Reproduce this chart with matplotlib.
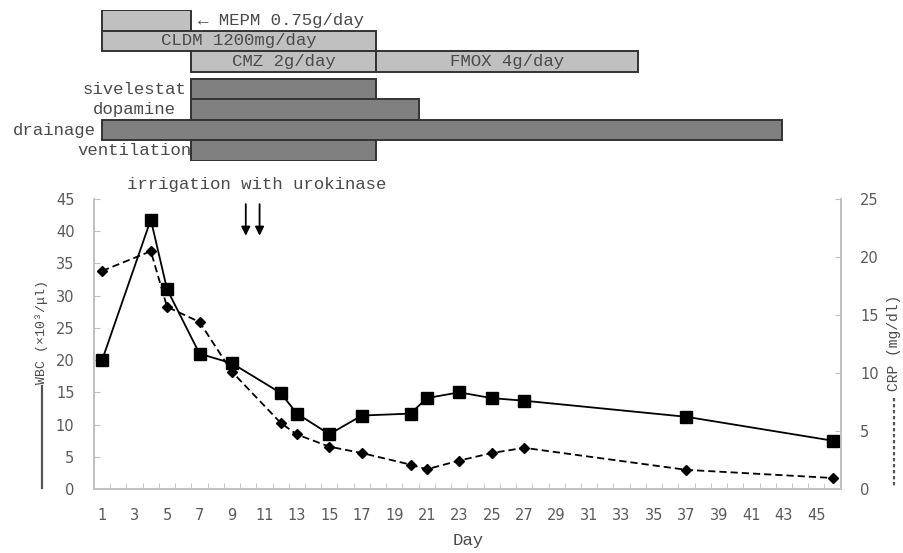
import matplotlib
matplotlib.use("Agg")
import matplotlib.pyplot as plt
from matplotlib.lines import Line2D
import numpy as np

# ---------------- data ----------------
wbc_days = [1, 4, 5, 7, 9, 12, 13, 15, 17, 20, 21, 23, 25, 27, 37, 46]
wbc_vals = [20.0, 41.8, 31.0, 21.0, 19.5, 14.9, 11.7, 8.5, 11.4, 11.7, 14.1, 15.0, 14.1, 13.7, 11.2, 7.5]

crp_days = [1, 4, 5, 7, 9, 12, 13, 15, 17, 20, 21, 23, 25, 27, 37, 46]
crp_vals = [18.8, 20.5, 15.7, 14.4, 10.1, 5.7, 4.7, 3.65, 3.1, 2.1, 1.7, 2.45, 3.1, 3.55, 1.65, 0.95]

# treatment bars: label, start day, end day, row
drug_labels = ["MEPM 0.75g/day", "CLDM 1200mg/day", "CMZ 2g/day", "FMOX 4g/day"]
drug_start = [1.0, 1.0, 6.45, 17.9]
drug_end = [6.45, 17.9, 17.9, 34.0]
drug_rows = [0, 1, 2, 2]

proc_labels = ["sivelestat", "dopamine", "drainage", "ventilation"]
proc_start = [6.45, 6.45, 1.0, 6.45]
proc_end = [17.9, 20.5, 42.9, 17.9]
proc_rows = [3.35, 4.35, 5.35, 6.35]

irrigation_days = [9.85, 10.7]

x_ticks = list(range(1, 46, 2))
wbc_ticks = list(range(0, 50, 5))
crp_ticks = list(range(0, 30, 5))

# ---------------- style ----------------
MONO = ["Liberation Mono", "DejaVu Sans Mono"]
TXT = "#4a4a4a"
TICK = "#5a5a5a"
AX = "#c0c0c0"

fig = plt.figure(figsize=(9.04, 5.53), dpi=100)
W, H = 904, 553

def fx(px):
    return px / W

def fy(py):
    return 1 - py / H

# main axes
ax = fig.add_axes([fx(94), fy(489), fx(840.7) - fx(94), fy(199) - fy(489)])
ax2 = ax.twinx()

ax.plot(wbc_days, wbc_vals, color="black", lw=1.3, marker="s", ms=8, zorder=3)
ax2.plot(crp_days, crp_vals, color="black", lw=1.3, ls=(0, (4, 2.2)), marker="D", ms=5.5, zorder=3)

ax.set_xlim(0.5, 46.5)
ax.set_ylim(0, 45)
ax2.set_ylim(0, 25)

ax.set_xticks(x_ticks)
ax.set_xticklabels([str(t) for t in x_ticks])
ax.set_xticks(np.arange(1.5, 46.5, 1.0), minor=True)
ax.set_yticks(wbc_ticks)
ax2.set_yticks(crp_ticks)

for a in (ax, ax2):
    for s in a.spines.values():
        s.set_color(AX)
        s.set_linewidth(1.2)
    a.spines["top"].set_visible(False)

ax.tick_params(axis="x", which="major", length=0, pad=14, labelsize=10.5, labelcolor=TICK)
ax.tick_params(axis="x", which="minor", direction="in", length=4, color=AX)
ax.tick_params(axis="y", direction="in", length=4, color=AX, pad=14, labelsize=10.5, labelcolor=TICK)
ax2.tick_params(axis="y", direction="in", length=4, color=AX, pad=14, labelsize=10.5, labelcolor=TICK)
for lab in ax.get_xticklabels() + ax.get_yticklabels() + ax2.get_yticklabels():
    lab.set_family("DejaVu Sans")

# irrigation arrows + label
for d in irrigation_days:
    ax.annotate("", xy=(d, 39.3), xytext=(d, 44.2),
                arrowprops=dict(arrowstyle="-|>", color="black", lw=1.3,
                                mutation_scale=13, shrinkA=0, shrinkB=0),
                annotation_clip=False)
fig.text(fx(257), fy(185), "irrigation with urokinase", family=MONO, fontsize=12.5,
         color=TXT, ha="center", va="center")

# axis labels with legend lines
fig.text(fx(468), fy(541), "Day", family=MONO, fontsize=12.5, color=TXT, ha="center", va="center")
fig.text(fx(42), fy(332), "WBC (×10³/μl)", family=MONO, fontsize=9.5, color=TXT,
         rotation=90, ha="center", va="center")
fig.add_artist(Line2D([fx(42), fx(42)], [fy(386), fy(488)], color="#555555", lw=1.6))
fig.text(fx(894), fy(343), "CRP (mg/dl)", family=MONO, fontsize=10.5, color=TXT,
         rotation=90, ha="center", va="center")
fig.add_artist(Line2D([fx(894), fx(894)], [fy(398), fy(486)], color="#555555", lw=1.6,
                      ls=(0, (1.5, 1.2))))

# ---------------- treatment bars ----------------
gx = fig.add_axes([fx(94), fy(161), fx(840.7) - fx(94), fy(10) - fy(161)])
gx.set_xlim(0.5, 46.5)
gx.set_ylim(6.85, -0.5)
gx.axis("off")

for lab, s, e, r in zip(drug_labels, drug_start, drug_end, drug_rows):
    gx.barh(r, e - s, left=s, height=1.0, color="#c0c0c0", edgecolor="#333333", lw=1.4)
    if lab.startswith("MEPM"):
        gx.text(e + 0.45, r, "← " + lab, family=MONO, fontsize=12.5, color=TXT,
                ha="left", va="center")
    else:
        gx.text((s + e) / 2, r, lab, family=MONO, fontsize=12.5, color=TXT,
                ha="center", va="center")

for lab, s, e, r in zip(proc_labels, proc_start, proc_end, proc_rows):
    gx.barh(r, e - s, left=s, height=1.0, color="#808080", edgecolor="#333333", lw=1.4)
    if s > 2:
        gx.text(3.0, r, lab, family=MONO, fontsize=12.5, color=TXT, ha="center", va="center")
    else:
        gx.text(s - 0.4, r, lab, family=MONO, fontsize=12.5, color=TXT, ha="right", va="center")

fig.savefig("out.png", dpi=100)
